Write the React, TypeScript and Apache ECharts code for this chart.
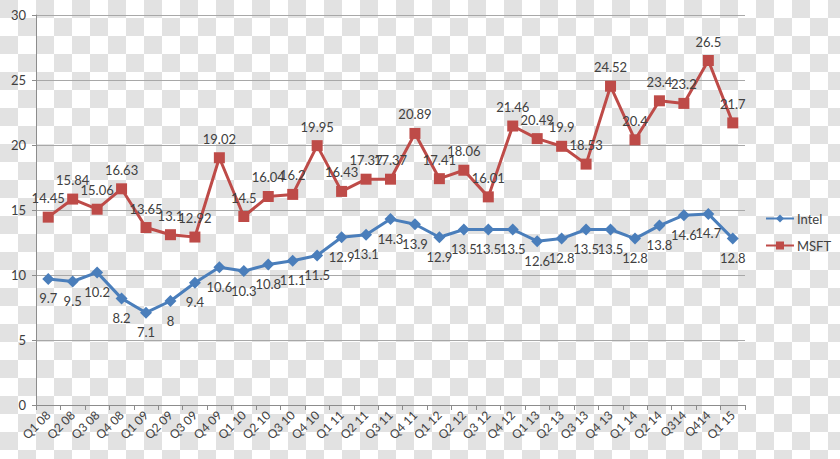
import React, { useEffect, useRef } from "react";
import * as echarts from "echarts";

const categories = [
  "Q1 08", "Q2 08", "Q3 08", "Q4 08",
  "Q1 09", "Q2 09", "Q3 09", "Q4 09",
  "Q1 10", "Q2 10", "Q3 10", "Q4 10",
  "Q1 11", "Q2 11", "Q3 11", "Q4 11",
  "Q1 12", "Q2 12", "Q3 12", "Q4 12",
  "Q1 13", "Q2 13", "Q3 13", "Q4 13",
  "Q1 14", "Q2 14", "Q314", "Q414",
  "Q1 15",
];

const intel = [
  9.7, 9.5, 10.2, 8.2, 7.1, 8, 9.4, 10.6, 10.3, 10.8, 11.1, 11.5, 12.9, 13.1,
  14.3, 13.9, 12.9, 13.5, 13.5, 13.5, 12.6, 12.8, 13.5, 13.5, 12.8, 13.8, 14.6,
  14.7, 12.8,
];

const msft = [
  14.45, 15.84, 15.06, 16.63, 13.65, 13.1, 12.92, 19.02, 14.5, 16.04, 16.2,
  19.95, 16.43, 17.37, 17.37, 20.89, 17.41, 18.06, 16.01, 21.46, 20.49, 19.9,
  18.53, 24.52, 20.4, 23.4, 23.2, 26.5, 21.7,
];

const yTicks = { min: 0, max: 30, interval: 5 };

const FONT = "Lato";
const TEXT = "#404040";

// transparency checkerboard backdrop seen in the reference image
function checkerboard(w: number, h: number, size: number, fill: string) {
  const out: any[] = [];
  for (let r = 0; r * size < h; r++) {
    for (let c = 0; c * size < w; c++) {
      if ((r + c) % 2 === 0) {
        out.push({
          type: "rect",
          silent: true,
          z: -10,
          x: c * size,
          y: r * size,
          shape: { x: 0, y: 0, width: size, height: size },
          style: { fill },
        });
      }
    }
  }
  return out;
}

export default function App() {
  const ref = useRef<HTMLDivElement>(null);
  useEffect(() => {
    if (!ref.current) return;
    const chart = echarts.init(ref.current, undefined, { renderer: "svg" });
    chart.setOption({
      animation: false,
      backgroundColor: "#ffffff",
      textStyle: { fontFamily: FONT },
      graphic: checkerboard(840, 459, 18, "#e2e2e2"),
      grid: { left: 36, right: 95, top: 15, bottom: 54, containLabel: false },
      legend: {
        orient: "vertical",
        left: 765,
        top: 212,
        padding: 0,
        itemWidth: 28,
        itemHeight: 10,
        itemGap: 14,
        textStyle: { fontFamily: FONT, fontSize: 13, color: TEXT, padding: [0, 0, 0, -2] },
        data: ["Intel", "MSFT"],
      },
      xAxis: {
        type: "category",
        data: categories,
        boundaryGap: true,
        axisLine: { show: true, lineStyle: { color: "#8c8c8c", width: 1 } },
        axisTick: { show: true, length: 5, alignWithLabel: false, lineStyle: { color: "#8c8c8c" } },
        axisLabel: {
          rotate: 45,
          interval: 0,
          margin: 8,
          fontFamily: FONT,
          fontSize: 12,
          color: TEXT,
        },
      },
      yAxis: {
        type: "value",
        min: yTicks.min,
        max: yTicks.max,
        interval: yTicks.interval,
        axisLine: { show: true, lineStyle: { color: "#8c8c8c", width: 1 } },
        axisTick: { show: true, length: 4, lineStyle: { color: "#8c8c8c" } },
        axisLabel: {
          margin: 10,
          fontFamily: FONT,
          fontSize: 13,
          color: TEXT,
          showMinLabel: true,
          hideOverlap: false,
        },
        splitLine: { show: true, lineStyle: { color: "#a8a8a8", width: 1 } },
      },
      series: [
        {
          name: "Intel",
          type: "line",
          data: intel,
          color: "#4a7ebb",
          symbol: "diamond",
          symbolSize: 12,
          lineStyle: { width: 3, color: "#4a7ebb" },
          itemStyle: { color: "#4a7ebb" },
          label: {
            show: true,
            position: "bottom",
            distance: 7,
            fontFamily: FONT,
            fontSize: 13,
            color: TEXT,
          },
        },
        {
          name: "MSFT",
          type: "line",
          data: msft,
          color: "#be4b48",
          symbol: "rect",
          symbolSize: 11,
          lineStyle: { width: 3, color: "#be4b48" },
          itemStyle: { color: "#be4b48" },
          label: {
            show: true,
            position: "top",
            distance: 7,
            fontFamily: FONT,
            fontSize: 13,
            color: TEXT,
          },
        },
      ],
    });
    return () => chart.dispose();
  }, []);
  return (
    <div style={{ position: "fixed", left: 0, top: 0, width: 840, height: 459 }}>
      <div ref={ref} style={{ width: 840, height: 459 }} />
    </div>
  );
}
